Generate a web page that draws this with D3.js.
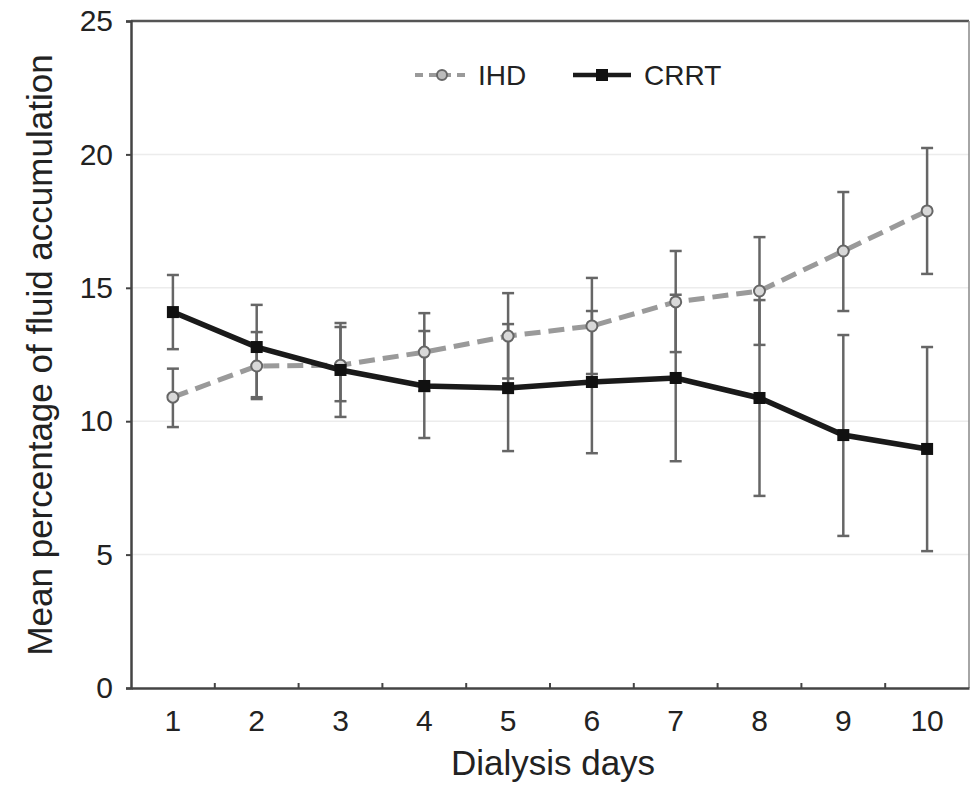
<!DOCTYPE html>
<html lang="en">
<head>
<meta charset="UTF-8">
<title>Fluid accumulation</title>
<script src="https://d3js.org/d3.v7.min.js"></script>
<style>
  body { margin: 0; background: #fff; }
  svg text { font-family: "Liberation Sans", Arial, sans-serif; fill: #222; }
</style>
</head>
<body>
<svg width="971" height="787"></svg>
<script>
// data
var days = [1, 2, 3, 4, 5, 6, 7, 8, 9, 10];
var ihdMean  = [10.9, 12.07, 12.1, 12.59, 13.19, 13.57, 14.47, 14.88, 16.38, 17.88];
var ihdLow   = [9.78, 10.83, 10.75, 11.13, 11.6, 11.77, 12.59, 12.86, 14.13, 15.52];
var ihdHigh  = [11.97, 13.34, 13.53, 14.05, 14.8, 15.37, 16.38, 16.9, 18.59, 20.24];
var crrtMean = [14.09, 12.78, 11.92, 11.32, 11.24, 11.47, 11.62, 10.87, 9.48, 8.96];
var crrtLow  = [12.7, 10.9, 10.16, 9.37, 8.88, 8.8, 8.5, 7.2, 5.7, 5.13];
var crrtHigh = [15.48, 14.36, 13.68, 13.38, 13.64, 14.13, 14.74, 14.54, 13.23, 12.78];
var yTicks = [0, 5, 10, 15, 20, 25];

var svg = d3.select("svg");
var plotLeft = 131, plotRight = 969, plotTop = 21, plotBottom = 688;

var x = d3.scaleBand().domain(days).range([plotLeft, plotRight]);
var y = d3.scaleLinear().domain([0, 25]).range([plotBottom, plotTop]);
var cx = function(i) { return x(days[i]) + x.bandwidth() / 2; };

// grid
svg.append("g").selectAll("line")
  .data(yTicks.filter(function(d) { return d > 0 && d < 25; }))
  .enter().append("line")
  .attr("x1", plotLeft).attr("x2", plotRight)
  .attr("y1", function(d) { return y(d); }).attr("y2", function(d) { return y(d); })
  .attr("stroke", "#ececec").attr("stroke-width", 1.5);

// frame
svg.append("line").attr("x1", plotLeft).attr("x2", plotRight).attr("y1", plotTop).attr("y2", plotTop)
  .attr("stroke", "#555").attr("stroke-width", 2.5);
svg.append("line").attr("x1", plotRight).attr("x2", plotRight).attr("y1", plotTop).attr("y2", plotBottom)
  .attr("stroke", "#888").attr("stroke-width", 1.5);

// y axis
var yAxis = svg.append("g")
  .attr("transform", "translate(" + plotLeft + ",0)")
  .call(d3.axisLeft(y).tickValues(yTicks).tickSize(5).tickPadding(13));
yAxis.select(".domain").attr("stroke", "#444").attr("stroke-width", 2.5);
yAxis.selectAll(".tick line").attr("stroke", "#444").attr("stroke-width", 2);
yAxis.selectAll("text").style("font-size", "30px").style("font-family", "Liberation Sans, Arial, sans-serif").attr("fill", "#222");

// x axis: ticks sit on band boundaries, labels at band centres
var xAxis = svg.append("g")
  .attr("transform", "translate(0," + plotBottom + ")")
  .call(d3.axisBottom(x).tickSize(0).tickPadding(22));
xAxis.select(".domain").attr("stroke", "#444").attr("stroke-width", 2.5);
xAxis.selectAll("text").style("font-size", "30px").style("font-family", "Liberation Sans, Arial, sans-serif").attr("fill", "#222");
xAxis.selectAll(".bnd").data(days.slice(1)).enter().append("line")
  .attr("x1", function(d) { return x(d); }).attr("x2", function(d) { return x(d); })
  .attr("y1", 0).attr("y2", -5)
  .attr("stroke", "#444").attr("stroke-width", 2);

// axis titles
svg.append("text")
  .attr("transform", "translate(52,355) rotate(-90)")
  .attr("text-anchor", "middle")
  .style("font-size", "35px")
  .text("Mean percentage of fluid accumulation");
svg.append("text")
  .attr("x", 553).attr("y", 775)
  .attr("text-anchor", "middle")
  .style("font-size", "35px")
  .text("Dialysis days");

// error bars
function errorBars(low, high) {
  var g = svg.append("g").attr("stroke", "#666").attr("stroke-width", 2.5);
  days.forEach(function(d, i) {
    g.append("line").attr("x1", cx(i)).attr("x2", cx(i))
      .attr("y1", y(low[i])).attr("y2", y(high[i]));
    [low[i], high[i]].forEach(function(v) {
      g.append("line").attr("x1", cx(i) - 6).attr("x2", cx(i) + 6)
        .attr("y1", y(v)).attr("y2", y(v));
    });
  });
}
errorBars(ihdLow, ihdHigh);
errorBars(crrtLow, crrtHigh);

var line = d3.line()
  .x(function(d, i) { return cx(i); })
  .y(function(d) { return y(d); });

// IHD
svg.append("path").datum(ihdMean)
  .attr("d", line).attr("fill", "none")
  .attr("stroke", "#9a9a9a").attr("stroke-width", 5)
  .attr("stroke-dasharray", "16,8");
svg.append("g").selectAll("circle").data(ihdMean).enter().append("circle")
  .attr("cx", function(d, i) { return cx(i); })
  .attr("cy", function(d) { return y(d); })
  .attr("r", 5.5)
  .attr("fill", "#d8d8d8").attr("stroke", "#666").attr("stroke-width", 2);

// CRRT
svg.append("path").datum(crrtMean)
  .attr("d", line).attr("fill", "none")
  .attr("stroke", "#1a1a1a").attr("stroke-width", 5.5);
svg.append("g").selectAll("rect").data(crrtMean).enter().append("rect")
  .attr("x", function(d, i) { return cx(i) - 6; })
  .attr("y", function(d) { return y(d) - 6; })
  .attr("width", 12).attr("height", 12)
  .attr("fill", "#111");

// legend
var leg = svg.append("g").attr("transform", "translate(0,75)");
leg.append("line").attr("x1", 415).attr("x2", 470).attr("y1", 0).attr("y2", 0)
  .attr("stroke", "#9a9a9a").attr("stroke-width", 4).attr("stroke-dasharray", "8,6");
leg.append("circle").attr("cx", 442).attr("cy", 0).attr("r", 5)
  .attr("fill", "#bbb").attr("stroke", "#666").attr("stroke-width", 2);
leg.append("text").attr("x", 478).attr("y", 10).style("font-size", "28px").text("IHD");
leg.append("line").attr("x1", 573).attr("x2", 631).attr("y1", 0).attr("y2", 0)
  .attr("stroke", "#1a1a1a").attr("stroke-width", 4.5);
leg.append("rect").attr("x", 596).attr("y", -6).attr("width", 12).attr("height", 12).attr("fill", "#111");
leg.append("text").attr("x", 644).attr("y", 10).style("font-size", "28px").text("CRRT");
</script>
</body>
</html>
